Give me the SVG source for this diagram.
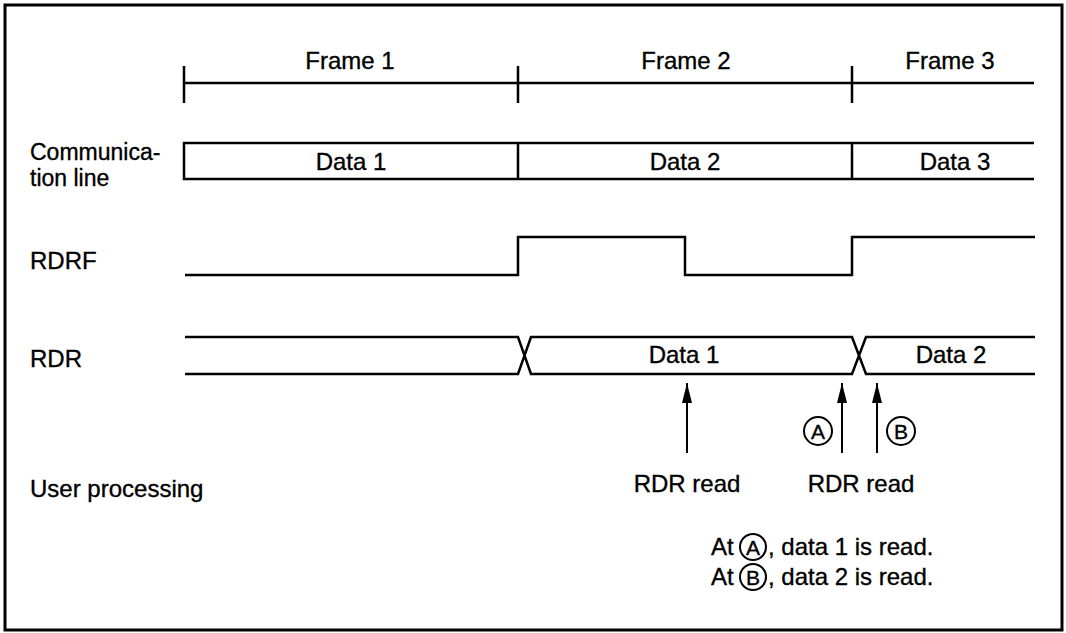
<svg xmlns="http://www.w3.org/2000/svg" width="1066" height="633" viewBox="0 0 1066 633">
<defs>
<style>
text{font-family:"Liberation Sans",Arial,sans-serif;font-size:24px;fill:#000;stroke:#000;stroke-width:0.35}
.c{text-anchor:middle}
.two{font-size:23px}
.ln{fill:none;stroke:#000;stroke-width:2.5;stroke-linejoin:miter}
.ar{fill:none;stroke:#000;stroke-width:2}
.cir{fill:none;stroke:#000;stroke-width:2}
.cl{font-size:21px;text-anchor:middle}
</style>
<marker id="ah" viewBox="0 0 20 10" refX="20" refY="5" markerWidth="20" markerHeight="10" markerUnits="userSpaceOnUse" orient="auto">
<path d="M0,0 L20,5 L0,10 Z" fill="#000"/>
</marker>
</defs>
<rect x="5" y="5" width="1057" height="625" fill="#fff" stroke="#000" stroke-width="3"/>

<g id="frames">
<path class="ln" d="M184,83 H1034 M184,66 V103 M518,66 V103 M852,66 V103"/>
<text class="c" x="350" y="69">Frame 1</text>
<text class="c" x="686" y="69">Frame 2</text>
<text class="c" x="950" y="69">Frame 3</text>
</g>

<g id="comm">
<text class="two" x="30" y="160">Communica-</text>
<text class="two" x="30" y="186">tion line</text>
<path class="ln" d="M1034,143 H184 V179 H1034 M518,143 V179 M852,143 V179"/>
<text class="c" x="351" y="170">Data 1</text>
<text class="c" x="685" y="170">Data 2</text>
<text class="c" x="955" y="170">Data 3</text>
</g>

<g id="rdrf">
<text x="30" y="269">RDRF</text>
<path class="ln" d="M185,275 H518 V237 H685 V275 H852 V237 H1035"/>
</g>

<g id="rdr">
<text x="30" y="367">RDR</text>
<path class="ln" d="M185,337 H518 L531,374 H852 L866,337 H1035 M185,374 H518 L531,337 H852 L866,374 H1035"/>
<text class="c" x="684" y="363">Data 1</text>
<text class="c" x="951" y="363">Data 2</text>
</g>

<g id="user">
<text x="30" y="497">User processing</text>
<text class="c" x="687" y="492">RDR read</text>
<text class="c" x="861" y="492">RDR read</text>
<circle class="cir" cx="818" cy="431" r="14"/>
<text class="cl" x="818" y="438.5">A</text>
<circle class="cir" cx="901" cy="431" r="14"/>
<text class="cl" x="901" y="438.5">B</text>
</g>

<g id="connectors">
<line class="ar" x1="687" y1="453" x2="687" y2="383" marker-end="url(#ah)"/>
<line class="ar" x1="842" y1="453" x2="842" y2="383" marker-end="url(#ah)"/>
<line class="ar" x1="877" y1="453" x2="877" y2="383" marker-end="url(#ah)"/>
</g>

<g id="note">
<text x="711" y="555">At</text>
<circle class="cir" cx="753" cy="547" r="13"/>
<text class="cl" x="753" y="554.5">A</text>
<text x="768" y="555">, data 1 is read.</text>
<text x="711" y="585">At</text>
<circle class="cir" cx="753" cy="577" r="13"/>
<text class="cl" x="753" y="584.5">B</text>
<text x="768" y="585">, data 2 is read.</text>
</g>
</svg>
